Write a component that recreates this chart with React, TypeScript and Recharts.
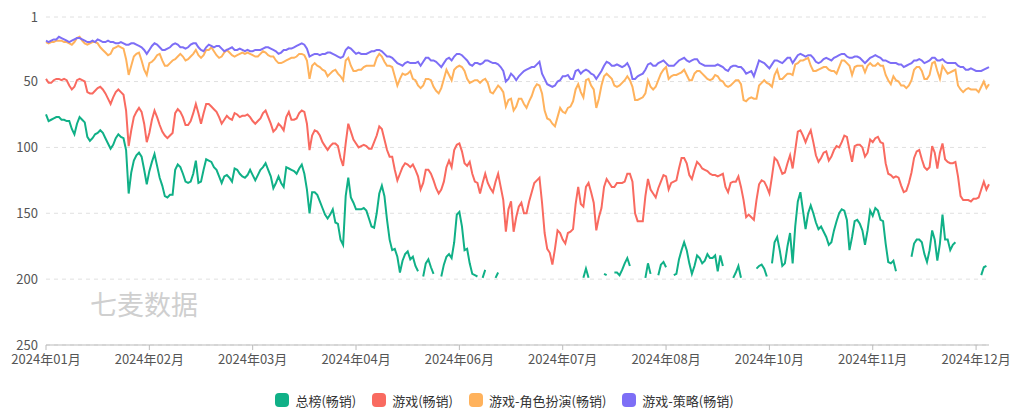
import { CartesianGrid, Legend, Line, LineChart, XAxis, YAxis } from 'recharts';

// daily rank, 2024-01-01 .. 2024-12-31 (null = not in top 200)
const overall: (number | null)[] = [
  75, 80, 79, 78, 77, 77, 79, 79, 80, 80, 86, 90, 82, 77, 79, 81, 92, 95, 93, 90, 89, 87, 89, 93, 97, 101, 98, 93, 90, 92, 93, 102, 135,
  119, 110, 106, 104, 107, 117, 128, 118, 111, 105, 114, 123, 129, 137, 138, 136, 136, 117, 113, 115, 120, 126, 127, 126, 120, 110, 127, 126, 117, 109, 110, 111, 115, 117,
  122, 127, 122, 121, 123, 126, 116, 117, 120, 122, 123, 121, 117, 121, 125, 121, 117, 115, 112, 117, 122, 131, 127, 122, 127, 130, 115, 116, 117, 118, 120, 116, 113,
  120, 132, 150, 134, 134, 136, 141, 146, 151, 154, 151, 147, 157, 158, 170, 174, 137, 123, 138, 142, 147, 147, 147, 146, 148, 154, 160, 161, 150, 135, 129, 137, 155, 170,
  178, 177, 183, 195, 186, 181, 179, 185, 183, 190, 194, null, 198, 188, 185, 191, 196, null, null, 198, 189, 183, 181, 184, 172, 151, 149, 160, 178, 177, 188, 196, 197, 198,
  null, 199, 193, null, null, null, 199, 195, null, null, null, null, null, null, null, null, null, null, null, null, null, null, null, null, null, null, null, null, null, null, null, null, null, null,
  null, null, null, null, null, null, 199, 192, 199, null, null, null, null, null, 196, 197, null, null, 195, 195, 197, 193, 188, 184, 190, null, null, null, null, null, 199, 188, 196,
  null, null, 197, 189, 187, 191, null, null, 197, 196, 185, 178, 172, 178, 188, 196, 190, 182, 184, 188, 186, 181, 184, 184, 182, 194, 182, 190, null, null, null, 199, 195, 190,
  199, null, null, null, null, null, 192, 190, 189, 192, 198, null, 188, 172, 168, 178, 190, 188, 175, 165, 188, 160, 141, 134, 148, 162, 150, 144, 150, 157, 162, 160, 164, 168,
  174, 172, 163, 156, 150, 147, 148, 155, 178, 168, 156, 155, 158, 163, 174, 163, 148, 152, 146, 148, 155, 156, 173, 187, 188, 186, 194, null, null, null, null, null, 183,
  173, 170, 170, 172, 181, 187, 178, 163, 170, 186, 173, 151, 170, 170, 178, 174, 172, null, null, null, null, null, null, null, null, null, 197, 191, 190, null,
];

const games = [
  48, 51, 51, 49, 48, 48, 49, 48, 49, 53, 56, 54, 49, 48, 49, 50, 58, 59, 59, 57, 55, 54, 56, 59, 63, 67, 62, 58, 56, 58, 60, 72, 99,
  87, 77, 73, 70, 73, 82, 96, 89, 79, 72, 77, 83, 88, 91, 93, 91, 89, 74, 71, 73, 77, 83, 83, 80, 74, 67, 74, 82, 74, 67, 67, 69, 71, 73,
  77, 82, 79, 76, 78, 79, 74, 75, 77, 76, 76, 75, 77, 80, 82, 80, 78, 74, 72, 77, 82, 88, 86, 82, 84, 87, 77, 73, 79, 79, 78, 74, 72,
  73, 82, 102, 91, 87, 88, 91, 96, 99, 102, 99, 97, 97, 99, 108, 114, 97, 82, 88, 94, 97, 100, 99, 98, 99, 101, 101, 96, 91, 84, 86, 94, 102, 107,
  107, 117, 125, 120, 115, 112, 113, 115, 113, 117, 122, 132, 127, 117, 117, 120, 125, 131, 135, 132, 126, 115, 110, 115, 102, 98, 97, 103, 112, 114, 111, 120, 126, 127,
  135, 127, 120, 127, 131, 134, 126, 120, 130, 140, 164, 147, 141, 164, 153, 145, 142, 150, 150, 141, 134, 127, 125, 123, 142, 165, 177, 180, 189, 177, 163, 165, 170, 173,
  165, 164, 162, 143, 130, 143, 145, 130, 127, 134, 142, 163, 153, 146, 130, 124, 127, 130, 130, 127, 127, 127, 126, 120, 120, 126, 150, 156, 156, 156, 137, 124, 132,
  135, 138, 131, 126, 121, 122, 132, 127, 126, 125, 116, 108, 108, 112, 121, 124, 117, 111, 113, 116, 117, 118, 120, 121, 121, 122, 121, 120, 130, 134, 127, 126, 126, 122,
  130, 140, 153, 151, 153, 155, 140, 128, 125, 126, 130, 135, 122, 108, 110, 115, 120, 119, 112, 106, 116, 102, 88, 87, 91, 96, 91, 87, 96, 106, 111, 108, 104, 103,
  110, 107, 102, 99, 100, 96, 91, 92, 102, 111, 99, 98, 98, 100, 107, 104, 94, 96, 93, 92, 96, 97, 112, 120, 121, 123, 122, 123, 129, 134, 133, 127, 119,
  108, 103, 102, 109, 115, 117, 115, 99, 104, 116, 104, 97, 109, 111, 112, 112, 111, 122, 137, 140, 140, 140, 141, 139, 139, 138, 132, 126, 132, 128,
];

const rpg = [
  20, 21, 20, 20, 19, 19, 19, 20, 20, 21, 22, 20, 17, 16, 19, 21, 22, 21, 20, 20, 21, 24, 26, 28, 30, 29, 25, 24, 23, 24, 25, 33, 45,
  38, 31, 29, 28, 34, 41, 45, 36, 35, 33, 30, 29, 34, 38, 38, 36, 34, 33, 31, 29, 31, 34, 33, 31, 29, 26, 30, 32, 30, 26, 26, 24, 27, 30,
  32, 31, 28, 26, 28, 30, 31, 30, 29, 28, 29, 28, 29, 30, 31, 31, 29, 27, 28, 30, 31, 31, 34, 36, 36, 35, 34, 33, 32, 32, 31, 29, 29,
  30, 34, 48, 38, 36, 38, 39, 41, 42, 46, 44, 42, 41, 44, 46, 49, 34, 32, 38, 42, 42, 41, 41, 39, 38, 38, 38, 38, 32, 29, 31, 35, 38, 38,
  39, 46, 53, 48, 44, 45, 44, 42, 48, 49, 53, 55, 53, 48, 48, 49, 54, 57, 59, 55, 48, 41, 45, 49, 41, 39, 38, 39, 42, 48, 51, 50, 49, 49,
  51, 49, 48, 51, 58, 59, 56, 53, 55, 58, 69, 64, 63, 72, 69, 63, 63, 67, 70, 65, 61, 55, 52, 53, 59, 72, 78, 79, 82, 84, 77, 70, 73, 74,
  70, 69, 65, 56, 52, 58, 62, 49, 48, 53, 56, 70, 63, 53, 46, 44, 46, 48, 53, 54, 53, 51, 49, 46, 49, 54, 64, 64, 63, 62, 59, 49, 54,
  56, 54, 49, 44, 41, 39, 48, 46, 45, 45, 44, 43, 41, 45, 49, 49, 44, 42, 42, 44, 46, 48, 49, 48, 45, 46, 49, 50, 53, 54, 53, 51, 49, 49,
  52, 64, 65, 63, 62, 63, 63, 53, 51, 49, 51, 52, 54, 45, 41, 48, 48, 46, 44, 44, 45, 37, 36, 34, 34, 33, 32, 38, 42, 42, 41, 40, 39, 39,
  41, 42, 42, 44, 39, 34, 34, 36, 38, 45, 39, 38, 38, 38, 43, 38, 36, 38, 38, 36, 38, 38, 45, 49, 52, 46, 49, 50, 53, 53, 55, 53, 49,
  41, 39, 39, 42, 48, 48, 45, 36, 35, 42, 48, 38, 41, 44, 43, 42, 41, 53, 56, 58, 56, 55, 56, 56, 56, 58, 54, 50, 55, 52,
];

const strategy = [
  19, 20, 19, 18, 18, 16, 17, 18, 19, 20, 19, 18, 17, 17, 18, 19, 20, 20, 19, 20, 18, 19, 20, 20, 19, 20, 20, 21, 21, 20, 21, 22, 22,
  21, 21, 22, 23, 24, 26, 29, 26, 23, 21, 22, 24, 26, 26, 25, 24, 22, 21, 22, 24, 24, 25, 24, 22, 21, 21, 24, 26, 27, 24, 22, 23, 24, 23,
  23, 25, 27, 26, 25, 24, 26, 26, 25, 26, 27, 26, 27, 27, 26, 26, 26, 25, 24, 24, 25, 26, 27, 29, 28, 26, 26, 25, 25, 24, 23, 22, 21,
  22, 25, 31, 30, 29, 29, 30, 29, 29, 28, 28, 29, 30, 31, 32, 31, 26, 24, 25, 27, 29, 28, 29, 29, 29, 28, 27, 27, 26, 26, 27, 29, 31, 31,
  32, 34, 36, 37, 38, 36, 35, 36, 36, 36, 35, 38, 35, 32, 32, 34, 34, 35, 37, 39, 36, 33, 32, 34, 31, 29, 29, 30, 32, 34, 37, 38, 36, 36,
  37, 36, 34, 34, 35, 36, 36, 37, 39, 42, 50, 48, 44, 46, 49, 46, 44, 42, 41, 40, 39, 39, 37, 35, 44, 48, 52, 53, 54, 53, 50, 49, 46, 46,
  45, 48, 48, 42, 41, 44, 42, 41, 42, 44, 45, 48, 45, 42, 38, 35, 36, 38, 38, 37, 38, 39, 38, 36, 40, 48, 48, 46, 45, 44, 41, 37, 36,
  38, 38, 36, 35, 34, 36, 38, 38, 38, 36, 34, 33, 32, 34, 35, 34, 33, 33, 36, 37, 38, 38, 38, 38, 38, 37, 38, 39, 41, 42, 39, 38, 38, 39,
  39, 41, 44, 43, 42, 46, 40, 34, 35, 36, 38, 40, 37, 34, 34, 35, 36, 34, 32, 32, 36, 33, 30, 29, 30, 31, 30, 30, 32, 35, 36, 35, 33, 32,
  33, 34, 32, 31, 30, 29, 29, 31, 32, 32, 31, 31, 32, 34, 36, 34, 32, 31, 30, 31, 32, 34, 34, 35, 36, 36, 36, 37, 37, 39, 38, 37, 36,
  34, 34, 33, 34, 36, 35, 34, 32, 32, 34, 34, 33, 35, 36, 36, 36, 36, 38, 39, 39, 41, 41, 40, 41, 42, 42, 42, 41, 40, 39,
];

const yTicks = [1, 50, 100, 150, 200, 250];

const series = [
  { key: 'overall', name: '总榜(畅销)', color: '#10b087', values: overall },
  { key: 'games', name: '游戏(畅销)', color: '#f96a60', values: games },
  { key: 'rpg', name: '游戏-角色扮演(畅销)', color: '#ffb25c', values: rpg },
  { key: 'strategy', name: '游戏-策略(畅销)', color: '#7d6ef6', values: strategy },
];

const dates: string[] = overall.map((_, i) => new Date(Date.UTC(2024, 0, 1 + i)).toISOString().slice(0, 10));

const data = dates.map((date, i) => {
  const row: Record<string, string | number | null> = { date };
  series.forEach((s) => {
    row[s.key] = s.values[i] ?? null;
  });
  return row;
});

const font = "'Noto Sans CJK SC', 'Noto Sans', sans-serif";

const formatMonth = (value: string) => `${value.slice(0, 4)}年${value.slice(5, 7)}月`;

const renderLegend = () => (
  <div
    style={{
      display: 'flex',
      justifyContent: 'center',
      alignItems: 'center',
      height: 20,
      paddingLeft: 12,
      gap: 16,
      fontSize: 13,
      color: '#333',
      fontFamily: font,
    }}
  >
    {series.map((s) => (
      <span key={s.key} style={{ display: 'flex', alignItems: 'center' }}>
        <span style={{ width: 14, height: 14, borderRadius: 4, background: s.color, marginRight: 6 }} />
        {s.name}
      </span>
    ))}
  </div>
);

const App = () => (
  <div style={{ position: 'relative', width: 1008, height: 402, fontFamily: font }}>
    <LineChart width={1008} height={402} data={data} margin={{ top: 9, right: 27, left: 0, bottom: 0 }}>
      <CartesianGrid vertical={false} strokeDasharray="4 4" stroke="#e0e0e0" />
      <XAxis
        dataKey="date"
        interval={39}
        tickFormatter={formatMonth}
        height={45}
        tick={{ fontSize: 13, fill: '#555' }}
        tickSize={5}
        tickMargin={5}
        stroke="#bbb"
      />
      <YAxis
        reversed
        width={38}
        domain={[1, 250]}
        ticks={yTicks}
        allowDataOverflow
        tick={{ fontSize: 13, fill: '#555' }}
        axisLine={false}
        tickLine={false}
      />
      <Legend verticalAlign="bottom" height={20} content={renderLegend} />
      {series.map((s) => (
        <Line
          key={s.key}
          type="linear"
          dataKey={s.key}
          name={s.name}
          stroke={s.color}
          strokeWidth={2}
          dot={false}
          activeDot={false}
          connectNulls={false}
          isAnimationActive={false}
        />
      ))}
    </LineChart>
    <div
      style={{
        position: 'absolute',
        left: 82,
        top: 281,
        fontSize: 27,
        lineHeight: '30px',
        color: '#cfcfcf',
        pointerEvents: 'none',
      }}
    >
      七麦数据
    </div>
  </div>
);

export default App;
